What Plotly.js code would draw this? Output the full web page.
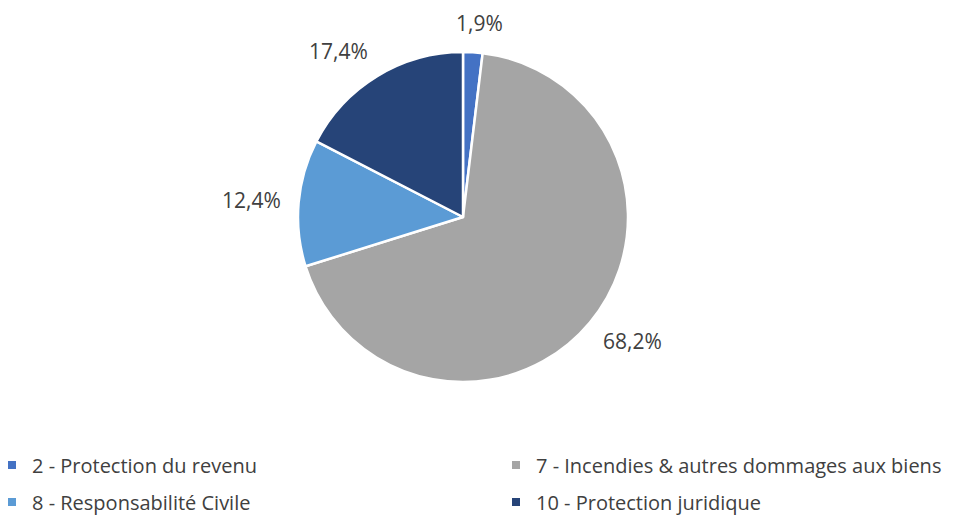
<!DOCTYPE html>
<html>
<head>
<meta charset="utf-8">
<script src="https://cdn.plot.ly/plotly-3.0.1.min.js"></script>
<style>html,body{margin:0;padding:0;background:#fff;}#chart{width:965px;height:515px;}</style>
</head>
<body>
<div id="chart"></div>
<script>
const categories = ["2 - Protection du revenu", "7 - Incendies & autres dommages aux biens", "8 - Responsabilité Civile", "10 - Protection juridique"];
const values = [1.9, 68.2, 12.4, 17.4];
const textLabels = ["1,9%", "68,2%", "12,4%", "17,4%"];
const colors = ["#4472C4", "#A5A5A5", "#5B9BD5", "#264478"];
const legendIds = ["legend", "legend2", "legend3", "legend4"];

const W = 965, H = 515;
const pieCx = 463, pieCy = 217, pieR = 165;

const pie = {
  type: "pie",
  labels: categories,
  values: values,
  textinfo: "none",
  sort: false,
  direction: "clockwise",
  rotation: 0,
  showlegend: false,
  marker: {colors: colors, line: {color: "#ffffff", width: 2.5}},
  domain: {x: [(pieCx - pieR)/W, (pieCx + pieR)/W], y: [(H - pieCy - pieR)/H, (H - pieCy + pieR)/H]},
  hoverinfo: "label+percent"
};

// legend entries (one per category), drawn by dummy traces
const legendTraces = categories.map((c, i) => ({
  type: "scatter", mode: "markers", x: [null], y: [null],
  name: c, legend: legendIds[i],
  marker: {symbol: "square", size: 8, color: colors[i]},
  hoverinfo: "skip"
}));

// data labels placed just outside each slice, from the slice mid-angle
const total = values.reduce((a, b) => a + b, 0);
const gap = 18, boxW = 58, boxH = 22;
let cum = 0;
const annotations = values.map((v, i) => {
  const mid = (cum + v / 2) / total * 2 * Math.PI;
  cum += v;
  const s = Math.sin(mid), c = Math.cos(mid);
  const px = pieCx + (pieR + gap) * s + Math.sign(s) * (boxW / 2) * Math.min(1, Math.abs(s) * 3);
  const py = pieCy - (pieR + gap) * c - c * (boxH / 2);
  return {
    xref: "paper", yref: "paper",
    x: px / W, y: 1 - py / H,
    xanchor: "center", yanchor: "middle",
    text: textLabels[i], showarrow: false,
    font: {family: "Open Sans, sans-serif", size: 21, color: "#404040"}
  };
});

const legendCommon = {
  orientation: "v", xanchor: "left", yanchor: "middle",
  font: {family: "Open Sans, sans-serif", size: 20, color: "#404040"},
  bgcolor: "rgba(0,0,0,0)"
};
const colX = [-8, 496];
const rowY = [465, 502];

const layout = {
  width: W, height: H,
  margin: {l: 0, r: 0, t: 0, b: 0, autoexpand: false},
  paper_bgcolor: "#ffffff", plot_bgcolor: "#ffffff",
  xaxis: {visible: false}, yaxis: {visible: false},
  showlegend: true,
  annotations: annotations
};
legendIds.forEach((id, i) => {
  layout[id] = Object.assign({}, legendCommon, {x: colX[i % 2] / W, y: 1 - rowY[Math.floor(i / 2)] / H});
});

Plotly.newPlot("chart", [pie].concat(legendTraces), layout, {displayModeBar: false, staticPlot: true});
</script>
</body>
</html>
